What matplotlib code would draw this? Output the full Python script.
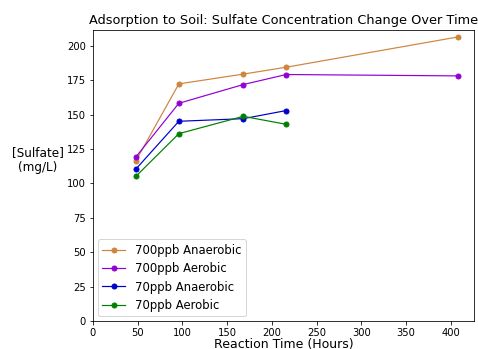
import matplotlib
matplotlib.use("Agg")
import matplotlib.pyplot as plt

# reaction times (hours) and sulfate concentration (mg/L)
hours_long = [48, 96, 168, 216, 408]
hours_short = [48, 96, 168, 216]

s700_anaerobic = [116.5, 172.4, 179.5, 184.5, 206.5]
s700_aerobic = [119.3, 158.3, 171.9, 179.2, 178.2]
s70_anaerobic = [110.5, 145.2, 147.1, 153.0]
s70_aerobic = [105.2, 136.2, 148.8, 143.0]

labels = ["700ppb Anaerobic", "700ppb Aerobic", "70ppb Anaerobic", "70ppb Aerobic"]

fig = plt.figure(figsize=(478 / 72, 349 / 72), dpi=72)
ax = fig.add_axes([93 / 478, 1 - 321 / 349, 381 / 478, 291 / 349])

style = dict(marker="o", markersize=5, linewidth=1.2)
ax.plot(hours_long, s700_anaerobic, color="peru", label=labels[0], **style)
ax.plot(hours_long, s700_aerobic, color="darkviolet", label=labels[1], **style)
ax.plot(hours_short, s70_anaerobic, color="mediumblue", label=labels[2], **style)
ax.plot(hours_short, s70_aerobic, color="green", label=labels[3], **style)

ax.set_xlim(left=0)
ax.set_ylim(bottom=0)
ax.tick_params(labelsize=10)

ax.set_title("Adsorption to Soil: Sulfate Concentration Change Over Time", fontsize=12.9)
ax.set_xlabel("Reaction Time (Hours)", fontsize=12.5, labelpad=0)
ax.set_ylabel("[Sulfate]\n(mg/L)", fontsize=12, rotation=0, ha="center", va="center")
ax.yaxis.set_label_coords(-0.145, 0.553)
ax.legend(loc="lower left", fontsize=11.6, labelspacing=0.45, borderaxespad=0.4)

fig.savefig("out.png", dpi=72)
